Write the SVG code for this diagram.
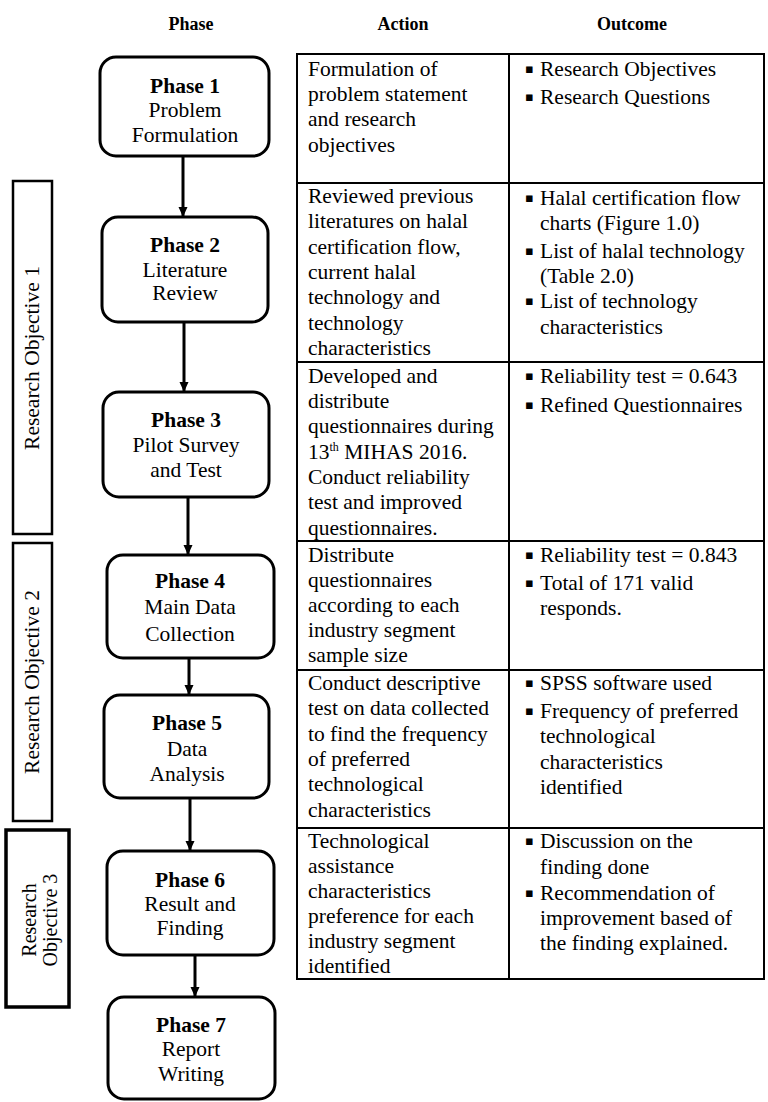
<svg xmlns="http://www.w3.org/2000/svg" width="768" height="1102" viewBox="0 0 768 1102">
<style>
  text { font-family: "Liberation Serif", "Times New Roman", serif; fill: #000; }
  .hdr { font-size: 18px; font-weight: bold; text-anchor: middle; }
  .ph { font-size: 21.5px; text-anchor: middle; }
  .phb { font-size: 21.5px; font-weight: bold; text-anchor: middle; }
  .cell { font-size: 21.5px; }
  .bul { font-size: 13px; font-family: "DejaVu Sans", sans-serif; }
  .ro { font-size: 21.5px; text-anchor: middle; }
  .box { fill: #fff; stroke: #000; stroke-width: 3; }
  .robox { fill: #fff; stroke: #000; stroke-width: 2.5; }
  .grid { fill: none; stroke: #000; stroke-width: 2; }
  .conn { stroke: #000; stroke-width: 3; fill: none; }
</style>
<defs>
  <marker id="ah" markerUnits="userSpaceOnUse" markerWidth="10" markerHeight="11" refX="10" refY="5" orient="auto">
    <path d="M0,0.5 L10,5 L0,9.5 z" fill="#000"/>
  </marker>
</defs>
<rect x="0" y="0" width="768" height="1102" fill="#fff"/>

<g id="headers">
  <text class="hdr" x="191" y="30">Phase</text>
  <text class="hdr" x="403" y="30">Action</text>
  <text class="hdr" x="632" y="30">Outcome</text>
</g>

<g id="research-objectives">
  <g id="ro1">
    <rect class="robox" x="13" y="181" width="39" height="353"/>
    <text class="ro" transform="translate(39,358) rotate(-90)">Research Objective 1</text>
  </g>
  <g id="ro2">
    <rect class="robox" x="13" y="543" width="39" height="278"/>
    <text class="ro" transform="translate(39,682) rotate(-90)">Research Objective 2</text>
  </g>
  <g id="ro3">
    <rect class="robox" x="6" y="830" width="63" height="177" style="stroke-width:3.5"/>
    <text class="ro" style="font-size:20px" transform="translate(36,920) rotate(-90)">Research</text>
    <text class="ro" style="font-size:20px" transform="translate(57,920) rotate(-90)">Objective 3</text>
  </g>
</g>

<g id="connectors">
  <line class="conn" x1="183" y1="156" x2="183" y2="217" marker-end="url(#ah)"/>
  <line class="conn" x1="184" y1="322" x2="184" y2="392" marker-end="url(#ah)"/>
  <line class="conn" x1="188" y1="497" x2="188" y2="555" marker-end="url(#ah)"/>
  <line class="conn" x1="189" y1="658" x2="189" y2="695" marker-end="url(#ah)"/>
  <line class="conn" x1="190" y1="798" x2="190" y2="851" marker-end="url(#ah)"/>
  <line class="conn" x1="195" y1="955" x2="195" y2="997" marker-end="url(#ah)"/>
</g>

<g id="phase1">
  <rect class="box" x="100" y="57" width="169" height="99" rx="16"/>
  <text class="phb" x="185" y="93">Phase 1</text>
  <text class="ph" x="185" y="117">Problem</text>
  <text class="ph" x="185" y="142">Formulation</text>
</g>
<g id="phase2">
  <rect class="box" x="102" y="217" width="166" height="105" rx="16"/>
  <text class="phb" x="185" y="252">Phase 2</text>
  <text class="ph" x="185" y="277">Literature</text>
  <text class="ph" x="185" y="300">Review</text>
</g>
<g id="phase3">
  <rect class="box" x="103" y="392" width="166" height="105" rx="16"/>
  <text class="phb" x="186" y="427">Phase 3</text>
  <text class="ph" x="186" y="452">Pilot Survey</text>
  <text class="ph" x="186" y="477">and Test</text>
</g>
<g id="phase4">
  <rect class="box" x="107" y="555" width="167" height="103" rx="16"/>
  <text class="phb" x="190" y="588">Phase 4</text>
  <text class="ph" x="190" y="614">Main Data</text>
  <text class="ph" x="190" y="641">Collection</text>
</g>
<g id="phase5">
  <rect class="box" x="104" y="695" width="165" height="103" rx="16"/>
  <text class="phb" x="187" y="730">Phase 5</text>
  <text class="ph" x="187" y="756">Data</text>
  <text class="ph" x="187" y="781">Analysis</text>
</g>
<g id="phase6">
  <rect class="box" x="107" y="851" width="167" height="104" rx="16"/>
  <text class="phb" x="190" y="887">Phase 6</text>
  <text class="ph" x="190" y="911">Result and</text>
  <text class="ph" x="190" y="935">Finding</text>
</g>
<g id="phase7">
  <rect class="box" x="108" y="997" width="167" height="102" rx="16"/>
  <text class="phb" x="191" y="1032">Phase 7</text>
  <text class="ph" x="191" y="1056">Report</text>
  <text class="ph" x="191" y="1081">Writing</text>
</g>

<g id="table">
  <rect class="grid" x="297" y="54" width="467" height="925"/>
  <line class="grid" x1="509" y1="54" x2="509" y2="979"/>
  <line class="grid" x1="297" y1="183" x2="764" y2="183"/>
  <line class="grid" x1="297" y1="362" x2="764" y2="362"/>
  <line class="grid" x1="297" y1="541" x2="764" y2="541"/>
  <line class="grid" x1="297" y1="670" x2="764" y2="670"/>
  <line class="grid" x1="297" y1="828" x2="764" y2="828"/>
</g>

<g id="row1">
  <text class="cell" x="308" y="76">Formulation of</text>
  <text class="cell" x="308" y="101">problem statement</text>
  <text class="cell" x="308" y="126">and research</text>
  <text class="cell" x="308" y="152">objectives</text>
  <text class="bul" x="525" y="73">▪</text>
  <text class="cell" x="540" y="76">Research Objectives</text>
  <text class="bul" x="525" y="101">▪</text>
  <text class="cell" x="540" y="104">Research Questions</text>
</g>
<g id="row2">
  <text class="cell" x="308" y="203">Reviewed previous</text>
  <text class="cell" x="308" y="228">literatures on halal</text>
  <text class="cell" x="308" y="254">certification flow,</text>
  <text class="cell" x="308" y="279">current halal</text>
  <text class="cell" x="308" y="304">technology and</text>
  <text class="cell" x="308" y="330">technology</text>
  <text class="cell" x="308" y="355">characteristics</text>
  <text class="bul" x="525" y="202">▪</text>
  <text class="cell" x="540" y="205">Halal certification flow</text>
  <text class="cell" x="540" y="230">charts (Figure 1.0)</text>
  <text class="bul" x="525" y="255">▪</text>
  <text class="cell" x="540" y="258">List of halal technology</text>
  <text class="cell" x="540" y="283">(Table 2.0)</text>
  <text class="bul" x="525" y="305">▪</text>
  <text class="cell" x="540" y="308">List of technology</text>
  <text class="cell" x="540" y="334">characteristics</text>
</g>
<g id="row3">
  <text class="cell" x="308" y="383">Developed and</text>
  <text class="cell" x="308" y="408">distribute</text>
  <text class="cell" x="308" y="433">questionnaires during</text>
  <text class="cell" x="308" y="459">13<tspan font-size="12" dy="-8">th</tspan><tspan dy="8"> MIHAS 2016.</tspan></text>
  <text class="cell" x="308" y="484">Conduct reliability</text>
  <text class="cell" x="308" y="509">test and improved</text>
  <text class="cell" x="308" y="535">questionnaires.</text>
  <text class="bul" x="525" y="380">▪</text>
  <text class="cell" x="540" y="383">Reliability test = 0.643</text>
  <text class="bul" x="525" y="409">▪</text>
  <text class="cell" x="540" y="412">Refined Questionnaires</text>
</g>
<g id="row4">
  <text class="cell" x="308" y="562">Distribute</text>
  <text class="cell" x="308" y="587">questionnaires</text>
  <text class="cell" x="308" y="612">according to each</text>
  <text class="cell" x="308" y="637">industry segment</text>
  <text class="cell" x="308" y="662">sample size</text>
  <text class="bul" x="525" y="559">▪</text>
  <text class="cell" x="540" y="562">Reliability test = 0.843</text>
  <text class="bul" x="525" y="587">▪</text>
  <text class="cell" x="540" y="590">Total of 171 valid</text>
  <text class="cell" x="540" y="615">responds.</text>
</g>
<g id="row5">
  <text class="cell" x="308" y="690">Conduct descriptive</text>
  <text class="cell" x="308" y="715">test on data collected</text>
  <text class="cell" x="308" y="741">to find the frequency</text>
  <text class="cell" x="308" y="766">of preferred</text>
  <text class="cell" x="308" y="791">technological</text>
  <text class="cell" x="308" y="817">characteristics</text>
  <text class="bul" x="525" y="687">▪</text>
  <text class="cell" x="540" y="690">SPSS software used</text>
  <text class="bul" x="525" y="715">▪</text>
  <text class="cell" x="540" y="718">Frequency of preferred</text>
  <text class="cell" x="540" y="743">technological</text>
  <text class="cell" x="540" y="769">characteristics</text>
  <text class="cell" x="540" y="794">identified</text>
</g>
<g id="row6">
  <text class="cell" x="308" y="848">Technological</text>
  <text class="cell" x="308" y="873">assistance</text>
  <text class="cell" x="308" y="898">characteristics</text>
  <text class="cell" x="308" y="923">preference for each</text>
  <text class="cell" x="308" y="948">industry segment</text>
  <text class="cell" x="308" y="973">identified</text>
  <text class="bul" x="525" y="845">▪</text>
  <text class="cell" x="540" y="848">Discussion on the</text>
  <text class="cell" x="540" y="874">finding done</text>
  <text class="bul" x="525" y="897">▪</text>
  <text class="cell" x="540" y="900">Recommendation of</text>
  <text class="cell" x="540" y="925">improvement based of</text>
  <text class="cell" x="540" y="950">the finding explained.</text>
</g>
</svg>
